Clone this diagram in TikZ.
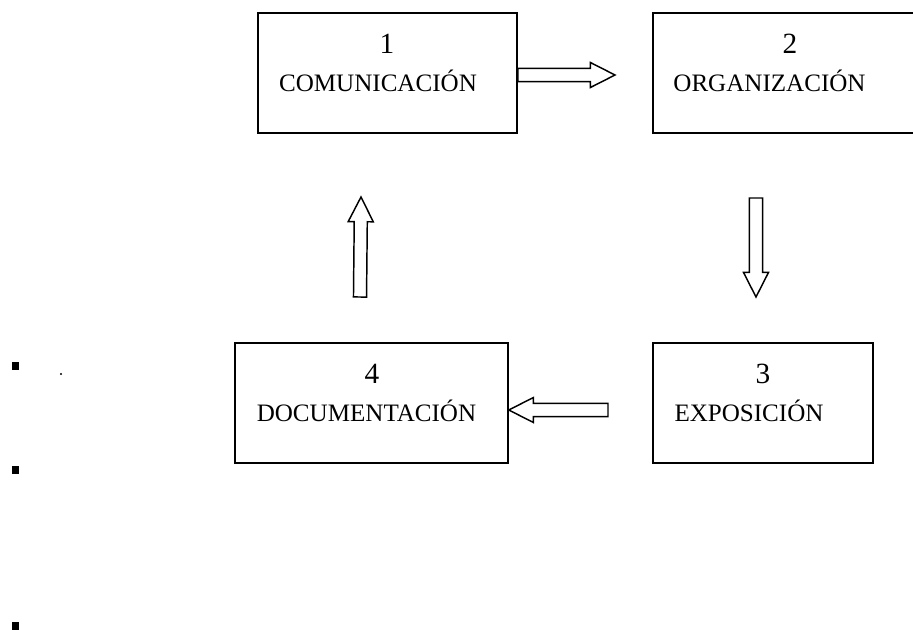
\documentclass[tikz,border=0pt]{standalone}
\usepackage{fontspec}
\setmainfont{Liberation Serif}
\usetikzlibrary{calc}
\newcommand{\hollowarrow}[2]{%
  \coordinate (hb) at ($(#2)!18.5pt!(#1)$);
  \draw[arrow line] ($(#1)!4.9pt!90:(#2)$) -- ($(hb)!4.9pt!90:(#2)$)
    -- ($(hb)!9.4pt!90:(#2)$) -- (#2) -- ($(hb)!9.4pt!-90:(#2)$)
    -- ($(hb)!4.9pt!-90:(#2)$) -- ($(#1)!4.9pt!-90:(#2)$) -- cycle;}

\begin{document}
\begin{tikzpicture}[x=0.75pt,y=-0.75pt,
  stage node/.style={draw,line width=1.2pt,minimum height=90pt,inner sep=0pt},
  number node/.style={anchor=base,inner sep=0pt,font=\fontsize{22}{26}\selectfont},
  title node/.style={anchor=base,inner sep=0pt,font=\fontsize{18.8}{22}\selectfont},
  arrow line/.style={draw,line width=1.1pt,line join=miter,fill=white},
  bullet node/.style={fill,inner sep=0pt,minimum width=5.25pt,minimum height=6pt}]
  \useasboundingbox (0,0) rectangle (913,629);
  \clip (0,0) rectangle (913,629);
  % stages
  \node[stage node,minimum width=194.25pt] (b1) at (387.5,73)  {};
  \node[stage node,minimum width=205.5pt]  (b2) at (790,73)    {};
  \node[stage node,minimum width=165pt]    (b3) at (763,403)   {};
  \node[stage node,minimum width=204.75pt] (b4) at (371.5,403) {};
  \node[number node] (n1) at (387,53)  {1};
  \node[title node]  (t1) at (378,91)  {COMUNICACIÓN};
  \node[number node] (n2) at (790,53)  {2};
  \node[title node]  (t2) at (769.5,91) {ORGANIZACIÓN};
  \node[number node] (n3) at (763,383) {3};
  \node[title node]  (t3) at (749,421) {EXPOSICIÓN};
  \node[number node] (n4) at (372,383) {4};
  \node[title node]  (t4) at (366.5,421) {DOCUMENTACIÓN};
  % arrows
  \coordinate (a1s) at (b1.east |- 0,75);
  \coordinate (a1e) at (615,75);
  \coordinate (a2s) at (756,198);
  \coordinate (a2e) at (756,297);
  \coordinate (a3s) at (608,410);
  \coordinate (a3e) at (b4.east |- 0,410);
  \coordinate (a4s) at (360,297);
  \coordinate (a4e) at (361,197);
  \hollowarrow{a1s}{a1e}
  \hollowarrow{a2s}{a2e}
  \hollowarrow{a3s}{a3e}
  \hollowarrow{a4s}{a4e}
  % bullets
  \node[bullet node] (m1) at (15.5,366) {};
  \node[bullet node] (m2) at (15.5,470) {};
  \node[bullet node] (m3) at (15.5,626) {};
  \node[fill,circle,inner sep=0pt,minimum size=1.8pt] (dot) at (61,374) {};
\end{tikzpicture}
\end{document}
